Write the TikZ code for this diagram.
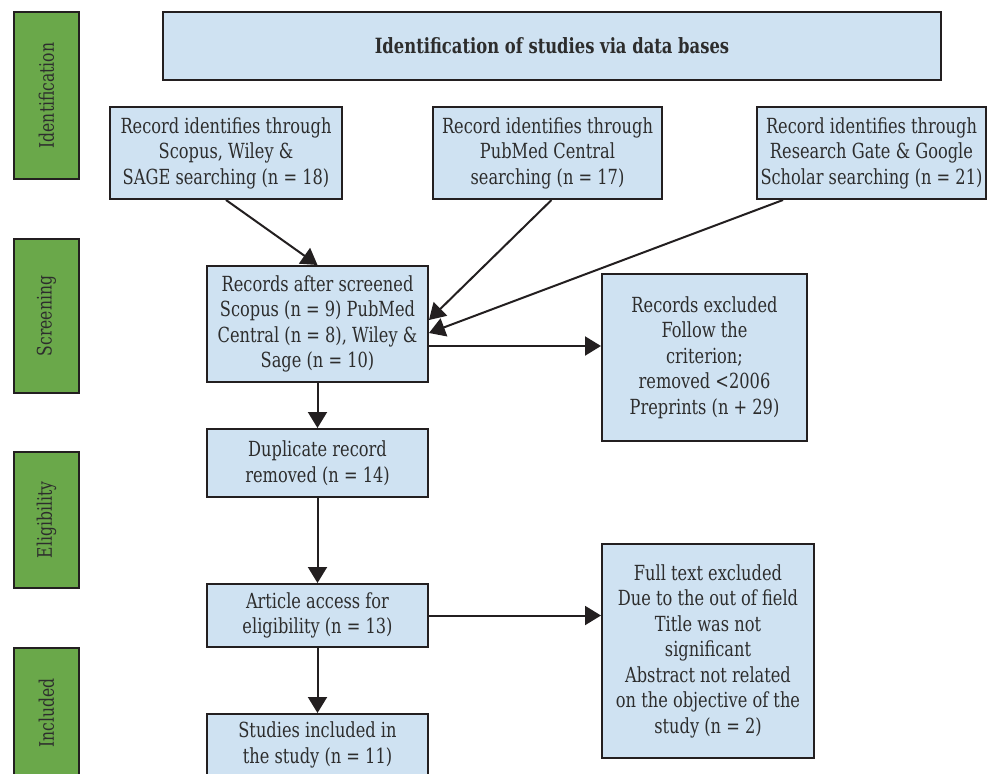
\documentclass[tikz,border=0pt]{standalone}
\usepackage{fontspec}
\setmainfont[FakeStretch=0.78]{DejaVu Serif}
\usetikzlibrary{arrows.meta}
\definecolor{boxblue}{RGB}{207,226,242}
\definecolor{phasegreen}{RGB}{106,168,74}
\definecolor{ink}{RGB}{35,31,32}
\definecolor{txt}{RGB}{45,45,45}
\tikzset{
  bluebox/.style={draw=ink, line width=2pt, fill=boxblue, inner sep=0pt, align=center,
    text=txt, font=\fontsize{20.8}{25.5}\selectfont},
  phase/.style={draw=ink, line width=2pt, fill=phasegreen, inner sep=0pt,
    minimum width=65pt, text=txt},
  phasetext/.style={rotate=90, text=txt, font=\fontsize{20}{22}\selectfont},
  conn/.style={draw=ink, line width=2pt, -{Triangle[width=19pt,length=16pt]}}
}
\begin{document}
\begin{tikzpicture}[x=1pt,y=-1pt]
\clip (0,0) rectangle (991,774);
\fill[white] (0,0) rectangle (991,774);
% phase bars
\node[phase, minimum height=167pt] (pid) at (46.5,95.5) {};
\node[phasetext] (tid) at (pid.center) {Identification};
\node[phase, minimum height=154pt] (psc) at (46.5,316) {};
\node[phasetext] (tsc) at (psc.center) {Screening};
\node[phase, minimum height=136pt] (pel) at (46.5,520) {};
\node[phasetext] (tel) at (pel.center) {Eligibility};
\node[phase, minimum height=134pt] (pin) at (46.5,715) {};
\node[phasetext] (tin) at (46.5,713) {Included};
% title
\node[bluebox, minimum width=778pt, minimum height=68pt, font=\fontsize{21}{24}\selectfont\bfseries] (title) at (552,46) {Identification of studies via data bases};
% sources
\node[bluebox, minimum width=232pt, minimum height=92pt] (b1) at (226,153) {Record identifies through\\Scopus, Wiley \&\\SAGE searching (n = 18)};
\node[bluebox, minimum width=229pt, minimum height=92pt] (b2) at (547.5,153) {Record identifies through\\PubMed Central\\searching (n = 17)};
\node[bluebox, minimum width=229pt, minimum height=92pt] (b3) at (871.5,153) {Record identifies through\\Research Gate \& Google\\Scholar searching (n = 21)};
% main column
\node[bluebox, minimum width=221pt, minimum height=116pt] (s) at (317.5,324) {Records after screened\\Scopus (n = 9) PubMed\\Central (n = 8), Wiley \&\\Sage (n = 10)};
\node[bluebox, minimum width=221pt, minimum height=68pt] (d) at (317.5,463) {Duplicate record\\removed (n = 14)};
\node[bluebox, minimum width=221pt, minimum height=63pt] (a) at (317.5,615.5) {Article access for\\eligibility (n = 13)};
\node[bluebox, minimum width=221pt, minimum height=62pt] (st) at (317.5,745) {Studies included in\\the study (n = 11)};
% exclusions
\node[bluebox, minimum width=205pt, minimum height=167pt] (ex) at (704.5,357.5) {Records excluded\\Follow the\\criterion;\\removed <2006\\Preprints (n + 29)};
\node[bluebox, minimum width=212pt, minimum height=214pt] (ft) at (708,651) {Full text excluded\\Due to the out of field\\Title was not\\significant\\Abstract not related\\on the objective of the\\study (n = 2)};
% connectors
\coordinate (b3out) at ([xshift=-88.5pt]b3.south);
\coordinate (sin2) at ([yshift=4pt]s.east);
\coordinate (sin3) at ([yshift=-9pt]s.east);
\coordinate (sout) at ([yshift=-22pt]s.east);
\draw[conn] (b1.south) -- (s.north);
\draw[conn] ([xshift=4pt]b2.south) -- (sin2);
\draw[conn] (b3out) -- (sin3);
\draw[conn] (sout) -- (ex.west |- sout);
\draw[conn] (s.south) -- (d.north);
\draw[conn] (d.south) -- (a.north);
\draw[conn] (a.south) -- (st.north);
\draw[conn] (a.east) -- (ft.west |- a.east);
\end{tikzpicture}
\end{document}
